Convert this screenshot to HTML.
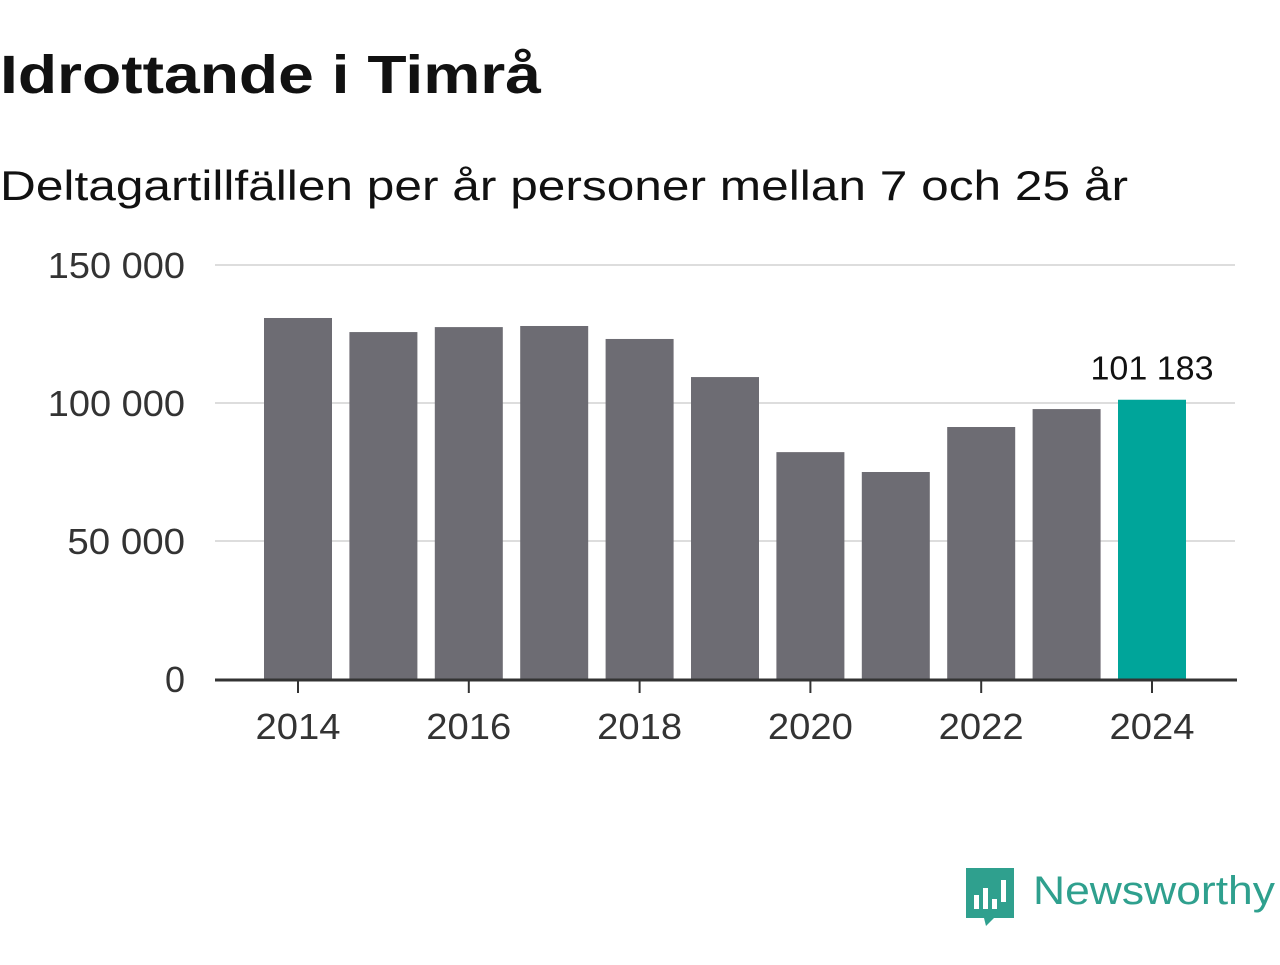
<!DOCTYPE html>
<html><head><meta charset="utf-8">
<style>
body{margin:0;background:#fff;width:1280px;height:960px;overflow:hidden;font-family:"Liberation Sans",sans-serif;}
svg text{font-family:"Liberation Sans",sans-serif;}
</style></head>
<body>
<svg width="1280" height="960">
<text x="0" y="93" font-size="54" font-weight="bold" fill="#111" textLength="541" lengthAdjust="spacingAndGlyphs">Idrottande i Timrå</text>
<text x="0" y="200" font-size="42" fill="#111" textLength="1128" lengthAdjust="spacingAndGlyphs">Deltagartillfällen per år personer mellan 7 och 25 år</text>
<g id="grid"></g>
<g id="bars"></g>
<g id="xaxis"></g>
<g>
<path d="M966 868 h48 v50 h-20 l-8 8 l-2 -8 h-18 z" fill="#2fa08e"/>
<rect x="974" y="895" width="5" height="14" fill="#fff"/>
<rect x="983" y="888" width="5" height="21" fill="#fff"/>
<rect x="992" y="899" width="5" height="10" fill="#fff"/>
<rect x="1001" y="880" width="5" height="22" fill="#fff"/>
<text x="1033" y="904" font-size="40" fill="#2fa08e" textLength="242" lengthAdjust="spacingAndGlyphs">Newsworthy</text>
</g>
</svg>
<script>
const years=[2014,2015,2016,2017,2018,2019,2020,2021,2022,2023,2024];
const values=[130800,125700,127500,127900,123200,109400,82200,75000,91300,97800,101183];
const yTicks=[0,50000,100000,150000];
const yTickLabels=["0","50 000","100 000","150 000"];
const xTickYears=[2014,2016,2018,2020,2022,2024];
const NS="http://www.w3.org/2000/svg";
const y0=679,pxPer=276/100000,x0=298,step=85.4,bw=68;
const y=v=>y0-v*pxPer;
const x=yr=>x0+(yr-2014)*step;
function mk(t,a,p){const e=document.createElementNS(NS,t);for(const k in a)e.setAttribute(k,a[k]);p.appendChild(e);return e;}
const g=document.getElementById('grid'),b=document.getElementById('bars'),xa=document.getElementById('xaxis');
yTicks.forEach((v,i)=>{
 if(v>0){const l=mk('line',{x1:215,x2:1235,y1:y(v),y2:y(v),stroke:'#ddd','stroke-width':2},g);
 
 }
 const lab=yTickLabels[i];
 const t=mk('text',{x:185,y:y(v)+13,'font-size':36,fill:'#333','text-anchor':'end'},g);
 if(lab.length>1){t.setAttribute('textLength',lab.length*19.6);t.setAttribute('lengthAdjust','spacingAndGlyphs');}
 t.textContent=lab;
 
 
});
years.forEach((yr,i)=>{
 const last=i===years.length-1;
 const r=mk('rect',{x:x(yr)-bw/2,y:y(values[i]),width:bw,height:y0-y(values[i]),fill:last?'#00a59a':'#6d6c73'},b);
 
 
 if(last){const t=mk('text',{x:x(yr),y:y(values[i])-20,'font-size':33,fill:'#111','text-anchor':'middle',textLength:123,lengthAdjust:'spacingAndGlyphs'},b);
 t.textContent=values[i].toLocaleString('sv-SE').replace(/\s/g,' ');
 
 }
});
const ax=mk('line',{x1:215,x2:1237,y1:y0+1,y2:y0+1,stroke:'#333','stroke-width':3},xa);


xTickYears.forEach(yr=>{
 const tk=mk('line',{x1:x(yr),x2:x(yr),y1:y0+1,y2:y0+14,stroke:'#333','stroke-width':2},xa);
 
 
 const t=mk('text',{x:x(yr),y:739,'font-size':36,fill:'#333','text-anchor':'middle',textLength:85,lengthAdjust:'spacingAndGlyphs'},xa);
 t.textContent=yr;
 
 
});
</script>
</body></html>
